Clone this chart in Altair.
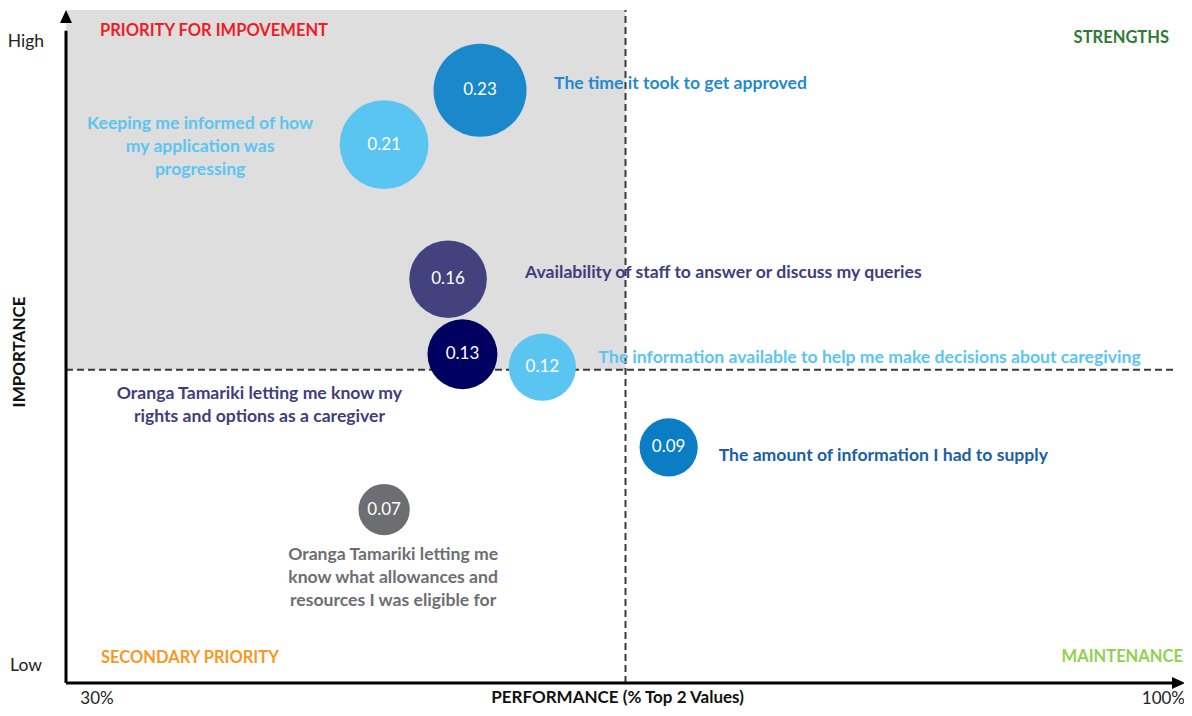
import altair as alt
import pandas as pd

# ---------------- data ----------------
items = [
    "The time it took to get approved",
    "Keeping me informed of how\nmy application was\nprogressing",
    "Availability of staff to answer or discuss my queries",
    "Oranga Tamariki letting me know my\nrights and options as a caregiver",
    "The information available to help me make decisions about caregiving",
    "The amount of information I had to supply",
    "Oranga Tamariki letting me\nknow what allowances and\nresources I was eligible for",
]
performance = [55.9, 49.9, 53.9, 54.8, 59.8, 67.7, 49.9]          # % top 2 values (x)
importance_pos = [0.229, 0.208, 0.156, 0.127, 0.122, 0.091, 0.067]  # vertical placement
importance = [0.23, 0.21, 0.16, 0.13, 0.12, 0.09, 0.07]            # bubble value
importance_labels = ["0.23", "0.21", "0.16", "0.13", "0.12", "0.09", "0.07"]
bubble_colors = ["#1a88ca", "#5bc5f2", "#43427e", "#000060", "#5bc5f2", "#0a7dc4", "#6d6e71"]
label_colors = ["#1e8bd0", "#5bc5f2", "#3f3d7c", "#3f3d7c", "#5bc5f2", "#1a5ea8", "#6d6e71"]

x_tick_labels = ["30%", "100%"]
y_tick_labels = ["High", "Low"]
quadrant_names = ["PRIORITY FOR IMPOVEMENT", "STRENGTHS", "SECONDARY PRIORITY", "MAINTENANCE"]
quadrant_colors = ["#ee1c25", "#2e7b34", "#f7981f", "#92d050"]
x_min, x_max, x_mid = 30, 100, 65.0
y_min, y_max, y_mid = 0.0, 0.26, 0.121

# ---------------- styling ----------------
FONT = "Lato"
LABEL_STYLE = [  # (dx, dy, align) of each bubble's caption relative to its bubble
    (74, -6, "left"),
    (-184, -21, "center"),
    (77, -6, "left"),
    (-203, 40, "center"),
    (56, -9, "left"),
    (50, 9, "left"),
    (9, 45, "center"),
]

xs = alt.Scale(domain=[x_min, x_max], range=[58, 1177])
ys = alt.Scale(domain=[y_min, y_max], range=[675, 2])


def X(field="x"):
    return alt.X(f"{field}:Q", scale=xs, axis=None)


def Y(field="y"):
    return alt.Y(f"{field}:Q", scale=ys, axis=None)


df = pd.DataFrame({
    "idx": list(range(len(items))),
    "item": items,
    "x": performance,
    "y": importance_pos,
    "imp": importance,
    "imp_label": importance_labels,
    "bcolor": bubble_colors,
    "lcolor": label_colors,
})

# shaded priority quadrant
shade = alt.Chart(pd.DataFrame({"x": [x_min], "x2": [x_mid], "y": [y_mid], "y2": [y_max]})).mark_rect(
    color="#dedede"
).encode(x=X(), x2="x2:Q", y=Y(), y2="y2:Q")

# dashed quadrant dividers
dash_v = alt.Chart(pd.DataFrame({"x": [x_mid], "y": [y_min], "y2": [y_max]})).mark_rule(
    color="#3a3a3a", strokeWidth=2, strokeDash=[7, 4]
).encode(x=X(), y=Y(), y2="y2:Q")
dash_h = alt.Chart(pd.DataFrame({"x": [x_min], "x2": [99.4], "y": [y_mid]})).mark_rule(
    color="#3a3a3a", strokeWidth=2, strokeDash=[7, 4]
).encode(x=X(), x2="x2:Q", y=Y())

# axis lines with arrows
axis_v = alt.Chart(pd.DataFrame({"x": [x_min], "y": [y_min], "y2": [0.252]})).mark_rule(
    color="black", strokeWidth=3
).encode(x=X(), y=Y(), y2="y2:Q")
axis_h = alt.Chart(pd.DataFrame({"x": [x_min], "x2": [99.3], "y": [y_min]})).mark_rule(
    color="black", strokeWidth=3
).encode(x=X(), x2="x2:Q", y=Y())
arrow_up = alt.Chart(pd.DataFrame({"x": [x_min], "y": [y_max]})).mark_point(
    shape="M0,0L-0.46,1L0.46,1Z", filled=True, size=676, color="black", opacity=1
).encode(x=X(), y=Y())
arrow_right = alt.Chart(pd.DataFrame({"x": [x_max], "y": [y_min]})).mark_point(
    shape="M0,0L-1,-0.46L-1,0.46Z", filled=True, size=676, color="black", opacity=1
).encode(x=X(), y=Y())

# bubbles (symbol size = bounding-box area, so diameter = sqrt(size))
bubbles = alt.Chart(df).mark_circle(opacity=1).encode(
    x=X(),
    y=Y(),
    size=alt.Size("imp:Q", scale=alt.Scale(domain=[0, 0.23], range=[0, 8649]), legend=None),
    color=alt.Color("bcolor:N", scale=None),
)
values = alt.Chart(df).mark_text(color="white", font=FONT, fontSize=17).encode(
    x=X(), y=Y(), text="imp_label:N"
)

# captions
captions = []
for i, (dx, dy, align) in enumerate(LABEL_STYLE):
    captions.append(
        alt.Chart(df).transform_filter(alt.datum.idx == i).mark_text(
            font=FONT, fontSize=17.6, fontWeight="bold", dx=dx, dy=dy, align=align,
            baseline="middle", lineBreak="\n", lineHeight=23,
        ).encode(x=X(), y=Y(), text="item:N", color=alt.Color("lcolor:N", scale=None))
    )


# axis annotation texts
def txt(text, x, y, dx=0, dy=0, align="center", color="#222222", size=17.5, weight="normal",
        angle=0, baseline="middle"):
    return alt.Chart(pd.DataFrame({"x": [x], "y": [y], "t": [text]})).mark_text(
        font=FONT, fontSize=size, fontWeight=weight, dx=dx, dy=dy, align=align,
        baseline=baseline, color=color, angle=angle,
    ).encode(x=X(), y=Y(), text="t:N")


annotations = [
    txt(y_tick_labels[0], x_min, 0.2477, dx=-22, align="right"),
    txt(y_tick_labels[1], x_min, 0.0066, dx=-24, align="right"),
    txt(x_tick_labels[0], 31.94, y_min, dy=21, baseline="alphabetic", size=17),
    txt(x_tick_labels[1], x_max, y_min, dy=21, align="right", baseline="alphabetic", size=17),
    txt("PERFORMANCE (% Top 2 Values)", 64.5, y_min, dy=20, weight="bold", color="#111111",
        baseline="alphabetic", size=17),
    txt("IMPORTANCE", 27.12, 0.1279, weight="bold", color="#111111", angle=270, size=17),
    txt(quadrant_names[0], 32.13, 0.2520, align="left", color=quadrant_colors[0], weight="bold", size=16.5),
    txt(quadrant_names[1], 99.0, 0.2490, align="right", color=quadrant_colors[1], weight="bold", size=16.5),
    txt(quadrant_names[2], 32.19, 0.0095, align="left", color=quadrant_colors[2], weight="bold", size=16.5),
    txt(quadrant_names[3], 99.87, 0.0100, align="right", color=quadrant_colors[3], weight="bold", size=16.5),
]

chart = alt.layer(
    shade, dash_v, dash_h, axis_v, axis_h, arrow_up, arrow_right,
    bubbles, values, *captions, *annotations,
).properties(
    width=1176, height=700, autosize=alt.AutoSizeParams(type="none"), padding=0,
    background="white",
).configure_view(stroke=None)

chart.save("out.html", embed_options={"renderer": "svg", "actions": False})
